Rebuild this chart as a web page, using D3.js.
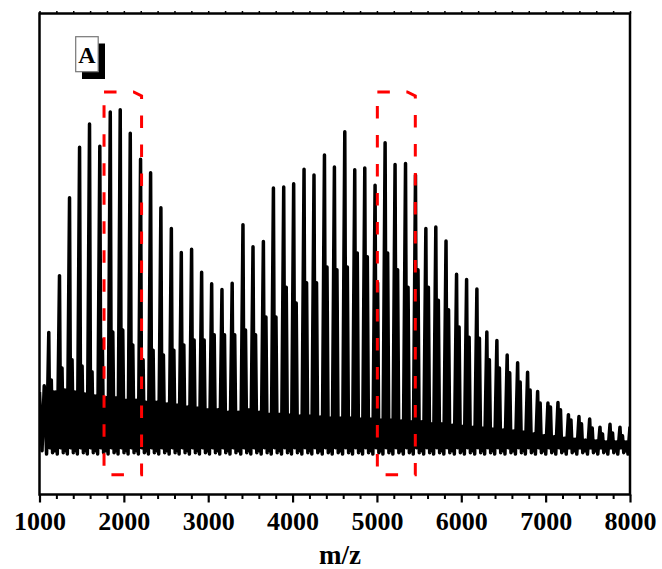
<!DOCTYPE html>
<html><head><meta charset="utf-8">
<script src="https://cdn.jsdelivr.net/npm/d3@7"></script>
<style>body{margin:0;background:#fff}svg{display:block}</style>
</head><body><svg id="chart" width="662" height="569"></svg>
<script>
// ---- data ----
const peakMz = [1110,1237,1356,1475,1593,1715,1839,1957,2076,2198,2317,2439,2563,2681,2803,2922,3041,3163,3284,3412,3531,3654,3773,3895,4013,4136,4254,4378,4496,4619,4737,4856,4978,5097,5215,5339,5457,5580,5698,5819,5944,6063,6185,6303,6422,6544,6668,6786,6905,7027,7146,7270,7395,7522,7644,7763,7881];
const mainInt = [33.6,45.4,61.6,72.1,76.9,72.3,79.4,79.9,75.0,69.6,66.8,59.5,55.2,50.2,50.9,46.1,43.7,42.5,43.8,56.0,51.4,52.5,63.6,63.8,64.5,67.5,66.3,70.5,68.0,75.3,67.4,67.8,64.2,73.0,68.5,68.7,66.3,55.2,55.5,52.6,45.7,44.6,42.6,33.7,31.9,28.9,27.3,25.3,21.3,18.9,19.0,16.5,16.1,15.6,13.9,14.5,13.9];
const shoulderInt = [23.7,26.2,27.9,26.6,25.4,32.0,33.7,34.1,31.0,27.9,29.9,28.9,29.9,31.0,32.0,32.0,33.1,33.1,33.1,34.1,33.1,36.8,36.8,43.0,39.7,43.9,43.9,47.2,46.6,47.2,50.1,49.3,43.9,50.1,46.6,43.0,46.6,43.0,40.3,38.3,34.7,32.6,32.4,27.9,26.2,25.2,23.3,21.6,18.9,18.1,17.5,15.4,14.6,13.7,12.5,12.7,12.1];
const minorInt = [21.2,21.6,21.2,20.8,20.4,20.0,20.0,19.5,19.5,19.1,19.1,18.7,18.5,18.1,17.9,17.5,17.5,17.0,17.0,17.5,17.0,16.6,16.6,16.4,16.2,16.2,16.0,15.8,15.8,15.8,15.6,15.6,15.4,15.4,15.2,15.0,15.0,14.6,14.6,14.3,14.1,13.9,13.7,13.5,13.3,13.1,12.9,12.5,12.1,11.9,11.6,11.4,11.2,11.0,10.8,10.8,10.8];
const troughInt = 8.3, dipInt1 = 9.6, dipInt2 = 8.6, dipInt3 = 9.0;
const leadMz = [1000, 1030, 1056], leadInt = [21.2, 9.0, 22.5];
const endInt = 14.0;
const xTickValues = [1000,2000,3000,4000,5000,6000,7000,8000];
const boxStartMz = [1765, 5005];
const boxEndMz = [2210, 5455];
const boxTopInt = 83.6, boxBottomInt = 4.0;
const panelLabel = "A";
const xTitle = "m/z";

// ---- layout ----
const svg = d3.select("#chart");
const L = 39.5, R = 630, T = 13.5, B = 494.5;
const x = d3.scaleLinear().domain([1000, 8000]).range([L, R]);
const y = d3.scaleLinear().domain([0, 100]).range([494, 13]);
const font = "'Liberation Serif','Times New Roman',serif";

// spectrum points built from the peak table
const pts = leadMz.map((m, i) => [m, leadInt[i]]);
peakMz.forEach((p, i) => {
  pts.push([p - 26, troughInt], [p, mainInt[i]], [p + 13, Math.min(dipInt1, shoulderInt[i])],
           [p + 30, shoulderInt[i]], [p + 45, dipInt2], [p + 58, minorInt[i]],
           [p + 68, dipInt3], [p + 80, minorInt[i]]);
});
pts.push([peakMz[peakMz.length - 1] + 95, troughInt], [8000, endInt]);

svg.append("clipPath").attr("id", "clip").append("rect")
  .attr("x", L).attr("y", T).attr("width", R - L).attr("height", B - T);

svg.append("path").datum(pts)
  .attr("clip-path", "url(#clip)")
  .attr("fill", "none").attr("stroke", "#000").attr("stroke-width", 3.5)
  .attr("stroke-linejoin", "round")
  .attr("d", d3.line().x(d => x(d[0])).y(d => y(d[1])));

// red dashed boxes
boxStartMz.forEach((s, i) => {
  const x0 = x(s), x1 = x(boxEndMz[i]), yt = y(boxTopInt), yb = y(boxBottomInt);
  svg.append("path")
    .attr("d", `M${x0},${yt}H${x1 - 8}L${x1},${yt + 4}V${yb}H${x0}Z`)
    .attr("fill", "none").attr("stroke", "#ff0000").attr("stroke-width", 3)
    .attr("stroke-dasharray", "12.5,16.5");
});

// frame
svg.append("rect").attr("x", L).attr("y", T).attr("width", R - L).attr("height", B - T)
  .attr("fill", "none").attr("stroke", "#000").attr("stroke-width", 2.5);

// bottom axis
const minorVals = d3.range(1000, 8001, 200).filter(v => v % 1000 !== 0);
const gx = svg.append("g").attr("transform", `translate(0,${B})`)
  .call(d3.axisBottom(x).tickValues(xTickValues).tickSize(8).tickPadding(9).tickFormat(d3.format("d")));
gx.select(".domain").remove();
gx.selectAll(".tick line").attr("stroke-width", 2.2);
gx.selectAll("text").attr("font-family", font).attr("font-weight", "bold").attr("font-size", 26).attr("fill", "#000");
const gxm = svg.append("g").attr("transform", `translate(0,${B})`)
  .call(d3.axisBottom(x).tickValues(minorVals).tickSize(4.5).tickFormat(""));
gxm.select(".domain").remove();
gxm.selectAll(".tick line").attr("stroke-width", 2);

// top axis small ticks
const gt = svg.append("g").attr("transform", `translate(0,${T})`)
  .call(d3.axisTop(x).tickValues(d3.range(1000, 8001, 200)).tickSize(2.5).tickFormat(""));
gt.select(".domain").remove();
gt.selectAll(".tick line").attr("stroke-width", 1.5);

// axis title
svg.append("text").attr("x", 340).attr("y", 564).attr("text-anchor", "middle")
  .attr("font-family", font).attr("font-weight", "bold").attr("font-size", 27).text(xTitle);

// panel label
svg.append("rect").attr("x", 82).attr("y", 43.5).attr("width", 23).attr("height", 35.5).attr("fill", "#000");
svg.append("rect").attr("x", 75.7).attr("y", 36.7).attr("width", 22.5).attr("height", 35)
  .attr("fill", "#fff").attr("stroke", "#777").attr("stroke-width", 1.2);
svg.append("text").attr("x", 87).attr("y", 63.3).attr("text-anchor", "middle")
  .attr("font-family", font).attr("font-weight", "bold").attr("font-size", 24).text(panelLabel);
</script></body></html>
